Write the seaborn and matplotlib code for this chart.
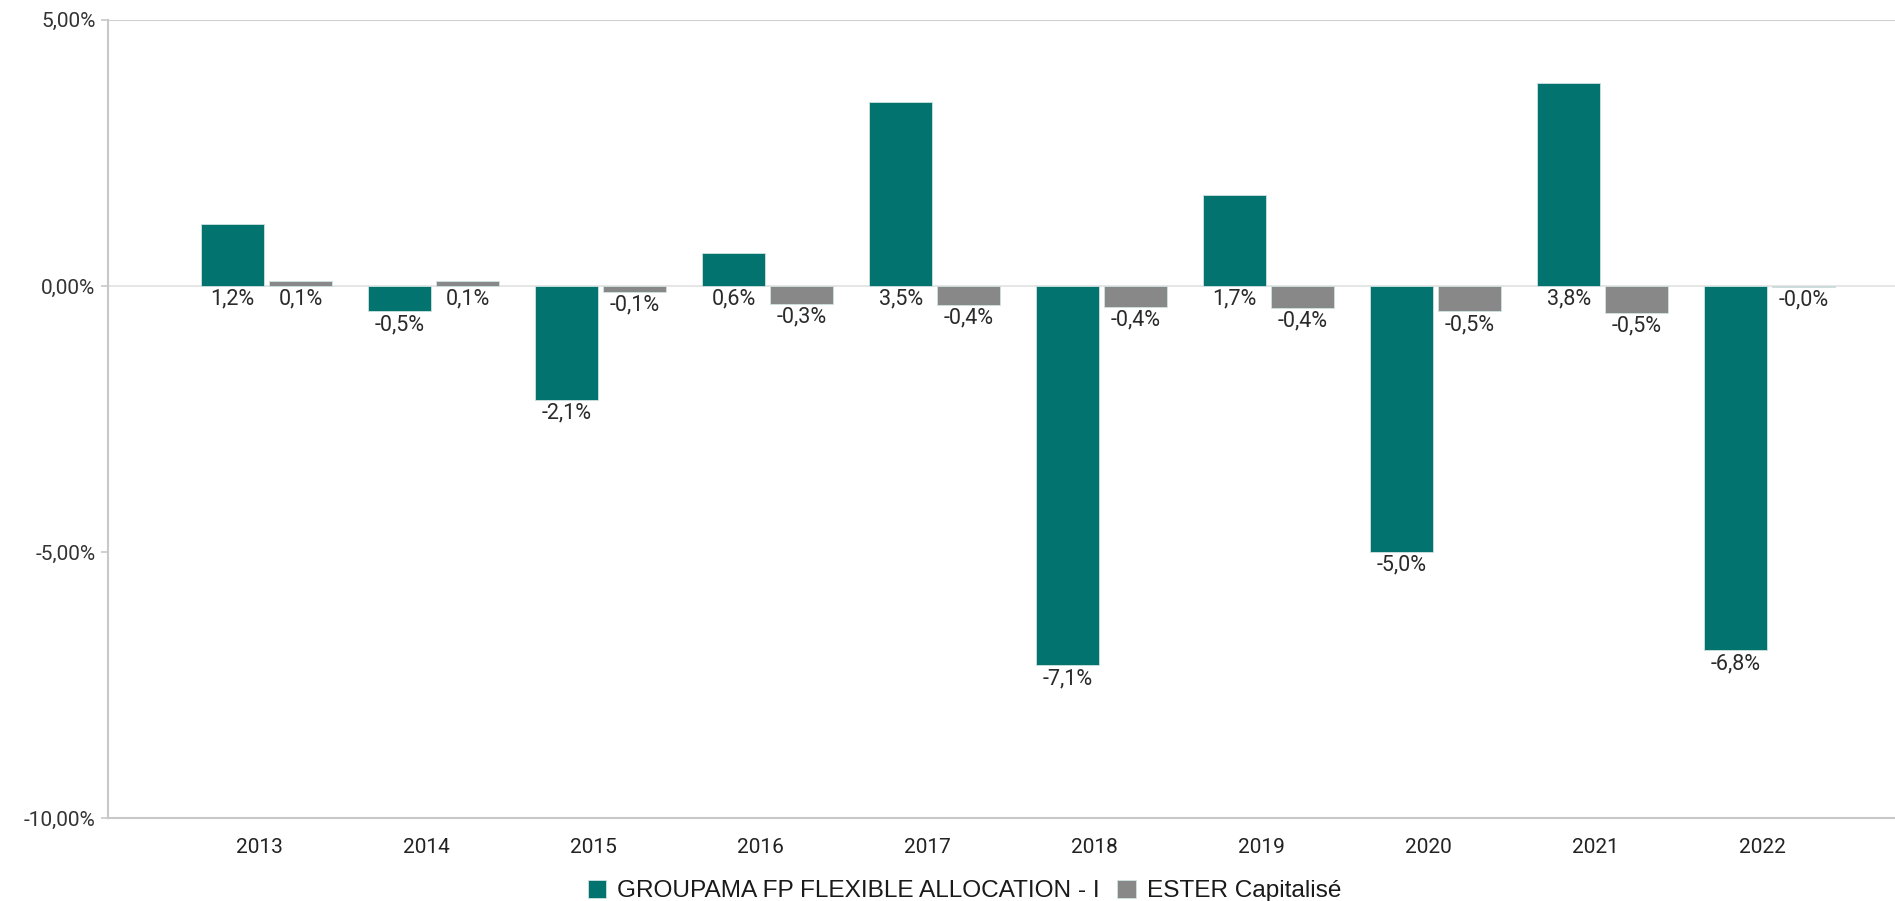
import numpy as np
import pandas as pd
import matplotlib.pyplot as plt
import seaborn as sns

# ============================ DONNÉES ============================

years = ['2013', '2014', '2015', '2016', '2017', '2018', '2019', '2020', '2021', '2022']
fund_name = 'GROUPAMA FP FLEXIBLE ALLOCATION - I'
bench_name = 'ESTER Capitalisé'
fund_perf = [1.16, -0.48, -2.14, 0.61, 3.45, -7.13, 1.70, -5.00, 3.82, -6.85]
bench_perf = [0.09, 0.09, -0.11, -0.34, -0.36, -0.39, -0.41, -0.48, -0.50, -0.02]

colors = {fund_name: '#03736F', bench_name: '#888888'}

df = pd.DataFrame({
    'annee': years * 2,
    'perf': fund_perf + bench_perf,
    'serie': [fund_name] * len(years) + [bench_name] * len(years),
})

# ============================ GRAPHIQUE ============================

sns.set_style('white')
plt.rcParams['font.family'] = ['Roboto', 'DejaVu Sans']

fig = plt.figure(figsize=(18.95, 9.01), dpi=100)
ax = fig.add_axes([0.057, 0.092, 0.943, 0.886])

sns.barplot(data=df, x='annee', y='perf', hue='serie', palette=colors,
            width=0.814, gap=0.074, edgecolor='#cfe3e1', linewidth=0.6,
            saturation=1, ax=ax)

ax.set_ylim(-10, 5)
ax.set_xlim(-0.95, 9.75)
ax.set_yticks([-10, -5, 0, 5])
ax.set_yticklabels([f"{v:.2f}%".replace('.', ',') for v in [-10, -5, 0, 5]])
# les libellés d'années sont légèrement décalés à gauche des groupes
ax.set_xticks(np.arange(len(years)) - 0.045)
ax.set_xticklabels(years)
ax.set_xlabel('')
ax.set_ylabel('')

ax.axhline(0, color='#e2e2e2', linewidth=1.2, zorder=0)
ax.axhline(5, color='#cfcfcf', linewidth=1.5, zorder=0)

for side in ['top', 'right']:
    ax.spines[side].set_visible(False)
for side in ['left', 'bottom']:
    ax.spines[side].set_color('#c8c8c8')
    ax.spines[side].set_linewidth(1.5)

ax.tick_params(axis='y', length=5, width=1.2, color='#c8c8c8', pad=4,
               labelsize=15, labelcolor='#333333', left=True)
ax.tick_params(axis='x', length=0, pad=14, labelsize=15, labelcolor='#222222')

# étiquettes de valeurs sous la base de chaque barre
for container in ax.containers:
    for bar in container:
        h = bar.get_height()
        x = bar.get_x() + bar.get_width() / 2.0
        y = min(0, h)
        ax.annotate(f"{h:.1f}%".replace('.', ','), xy=(x, y), xytext=(0, -2),
                    textcoords='offset points', ha='center', va='top',
                    fontsize=15.5, color='#2a2a2a')

leg = ax.legend(loc='center', bbox_to_anchor=(0.509, 0.011),
                bbox_transform=fig.transFigure, ncol=2, frameon=False,
                handlelength=0.75, handleheight=0.75, handletextpad=0.45,
                columnspacing=0.7, borderaxespad=0,
                prop={'family': 'Liberation Sans', 'size': 17.6})
for t in leg.get_texts():
    t.set_color('#1a1a1a')

fig.savefig('out.png', dpi=100)
